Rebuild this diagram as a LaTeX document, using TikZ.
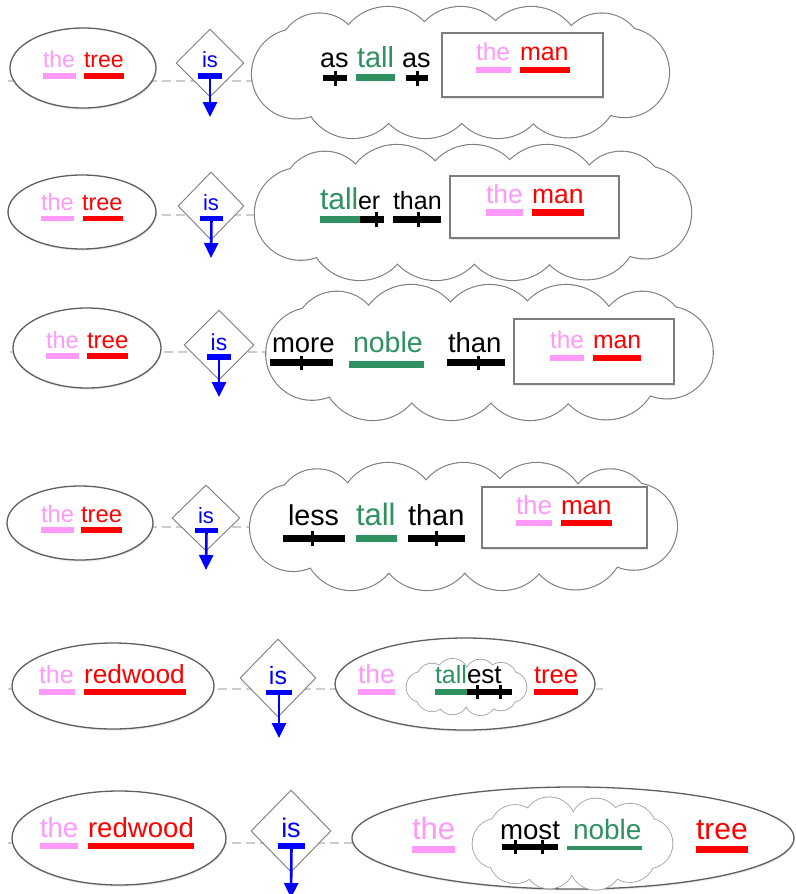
\documentclass[tikz,border=0pt]{standalone}
\usepackage{fontspec}
\setmainfont{Liberation Sans}
\usetikzlibrary{shapes.geometric,arrows.meta,shadows}

\definecolor{artpink}{RGB}{255,153,250}
\definecolor{nounred}{RGB}{255,0,0}
\definecolor{adjgreen}{RGB}{47,145,95}
\definecolor{verbblue}{RGB}{0,0,255}
\definecolor{rimgray}{RGB}{95,95,95}
\definecolor{edgegray}{RGB}{125,125,125}
\definecolor{linkgray}{RGB}{205,205,205}

% font size in pt
\newcommand\wsz[1]{\fontsize{#1}{#1}\selectfont}
% underline bar: colour, x1, x2, ytop, ybottom
\newcommand\ubar[5]{\fill[#1] (#2,#4) rectangle (#3,#5);}
% large thought cloud: cx, cy, half width A, half height B;
% puffs given as x/A, y/B, radius/B
\def\wideplan{-0.68/-0.27/0.63, -0.35/-0.22/0.78, 0.0/-0.24/0.76, 0.34/-0.22/0.78, 0.68/-0.26/0.64,
  -0.52/0.24/0.76, -0.17/0.22/0.78, 0.18/0.24/0.76, 0.52/0.22/0.77, -0.79/0.02/0.68, 0.79/0.0/0.68}
\newcommand\bigcloud[4]{%
  \foreach \fx/\fy/\fr in \wideplan {\draw[cloudrim] ({#1+#3*(\fx)},{#2+#4*(\fy)}) circle[radius={#4*\fr}];}
  \foreach \fx/\fy/\fr in \wideplan {\fill[white] ({#1+#3*(\fx)},{#2+#4*(\fy)}) circle[radius={#4*\fr}];}
}
% small thought cloud: puffs set round an ellipse (cx, cy, a, b, puff radius)
\def\smallpuffs{0/1, 40/1, 72/1.05, 108/1, 140/1.05, 180/1, 220/1, 252/1.05, 288/1, 320/1.05}
\newcommand\smallcloud[5]{%
  \foreach \pa/\pf in \smallpuffs {\draw[smallrim] ({#1+#3*cos(\pa)},{#2+#4*sin(\pa)}) circle[radius={#5*\pf}];}
  \foreach \pa/\pf in \smallpuffs {\fill[white] ({#1+#3*cos(\pa)},{#2+#4*sin(\pa)}) circle[radius={#5*\pf}];}
  \fill[white] (#1,#2) ellipse[x radius=#3, y radius=#4];
}

\tikzset{
  word/.style={anchor=base west, inner sep=0pt, outer sep=0pt},
  subj/.style={ellipse, draw=rimgray, line width=1.3pt, fill=white, inner sep=0pt,
    drop shadow={opacity=0.18, shadow xshift=0.6pt, shadow yshift=-1.6pt}},
  verbbox/.style={diamond, draw=edgegray, line width=0.9pt, fill=white, inner sep=0pt},
  cloudrim/.style={draw=edgegray, line width=2.2pt},
  smallrim/.style={draw=edgegray!75, line width=1.6pt},
  objbox/.style={rectangle, draw=edgegray, line width=1.6pt, fill=white, inner sep=0pt,
    drop shadow={opacity=0.2, shadow xshift=0.8pt, shadow yshift=-1.6pt}},
  copbar/.style={rectangle, fill=verbblue, inner sep=0pt, minimum width=24pt, minimum height=6pt},
  copula/.style={draw=verbblue, line width=2.6pt, -{Triangle[width=14pt,length=15pt]}},
  link/.style={draw=linkgray, line width=1.5pt, dash pattern=on 9pt off 5pt},
  tick/.style={draw=black, line width=3pt},
}

\begin{document}
\begin{tikzpicture}[x=1pt,y=-1pt]
\fill[white] (0,0) rectangle (795,894);
\useasboundingbox (0,0) rectangle (795,894);

% ---------- the tree is as tall as the man ----------
\coordinate (r1a) at (8,81); \coordinate (r1b) at (300,81);
\draw[link] (r1a) -- (r1b);
\node[subj, minimum width=146pt, minimum height=80pt] (r1subj) at (83,68) {};
\node[verbbox, minimum width=68pt, minimum height=68pt] (r1verb) at (210,63) {};
\bigcloud{460.5}{72.5}{207.5}{65.5}
\node[objbox, minimum width=161pt, minimum height=64pt] (r1obj) at (522.5,65) {};
\node[word, text=artpink, font=\wsz{23}] (r1the) at (43,67) {the}; \ubar{artpink}{43}{76}{73}{79}
\node[word, text=nounred, font=\wsz{23}] (r1tree) at (84,67) {tree}; \ubar{nounred}{84}{124}{73}{79}
\node[word, anchor=base, text=verbblue, font=\wsz{22}] (r1is) at (210,67) {is};
\node[copbar] (r1cop) at (210,76) {};
\coordinate (r1tip) at (210,117);
\draw[copula] (r1cop.center) -- (r1tip);
\node[word, font=\wsz{27}] (r1as) at (320,67) {as}; \ubar{black}{323}{347}{75}{81}
\draw[tick] (335,71) -- (335,86);
\node[word, text=adjgreen, font=\wsz{29}] (r1tall) at (357,67) {tall}; \ubar{adjgreen}{356}{395}{74}{81}
\node[word, font=\wsz{27}] (r1asb) at (402,67) {as}; \ubar{black}{406}{428}{75}{81}
\draw[tick] (417,71) -- (417,86);
\node[word, text=artpink, font=\wsz{24.5}] (r1theb) at (476,60) {the}; \ubar{artpink}{476}{511}{67}{73}
\node[word, text=nounred, font=\wsz{25}] (r1man) at (520,60) {man}; \ubar{nounred}{520}{570}{67}{73}

% ---------- the tree is taller than the man ----------
\coordinate (r2a) at (8,215); \coordinate (r2b) at (300,215);
\draw[link] (r2a) -- (r2b);
\node[subj, minimum width=148pt, minimum height=74pt] (r2subj) at (82,212) {};
\node[verbbox, minimum width=66pt, minimum height=68pt] (r2verb) at (211,206) {};
\bigcloud{473}{212.5}{218}{67.5}
\node[objbox, minimum width=169pt, minimum height=62pt] (r2obj) at (534.5,207) {};
\node[word, text=artpink, font=\wsz{23.5}] (r2the) at (41,210) {the}; \ubar{artpink}{41}{74}{216}{221}
\node[word, text=nounred, font=\wsz{23.5}] (r2tree) at (82,210) {tree}; \ubar{nounred}{83}{123}{216}{221}
\node[word, anchor=base, text=verbblue, font=\wsz{22}] (r2is) at (211,210) {is};
\node[copbar, minimum width=23pt, minimum height=5pt] (r2cop) at (211.5,218.5) {};
\coordinate (r2tip) at (211,258);
\draw[copula] (r2cop.center) -- (r2tip);
\node[word, text=adjgreen, font=\wsz{30}] (r2tall) at (320,209) {tall};
\node[word, font=\wsz{25}] (r2er) at (358,209) {er};
\ubar{adjgreen}{320}{360}{216}{223} \ubar{black}{360}{384}{216}{223}
\draw[tick] (376,212) -- (376,227);
\node[word, font=\wsz{25}] (r2than) at (393,209) {than}; \ubar{black}{393}{441}{216}{223}
\draw[tick] (418,212) -- (418,227);
\node[word, text=artpink, font=\wsz{26.5}] (r2theb) at (486,203) {the}; \ubar{artpink}{486}{523}{209}{216}
\node[word, text=nounred, font=\wsz{26.5}] (r2man) at (532,203) {man}; \ubar{nounred}{532}{584}{209}{216}

% ---------- the tree is more noble than the man ----------
\coordinate (r3a) at (10,352); \coordinate (r3b) at (300,352);
\draw[link] (r3a) -- (r3b);
\node[subj, minimum width=148pt, minimum height=80pt] (r3subj) at (87,348) {};
\node[verbbox, minimum width=70pt, minimum height=70pt] (r3verb) at (219,345) {};
\bigcloud{489.5}{352.5}{224.5}{67.5}
\node[objbox, minimum width=160pt, minimum height=65pt] (r3obj) at (594,351.5) {};
\node[word, text=artpink, font=\wsz{23.5}] (r3the) at (46,348) {the}; \ubar{artpink}{46}{79}{353}{359}
\node[word, text=nounred, font=\wsz{24}] (r3tree) at (87,348) {tree}; \ubar{nounred}{87}{128}{353}{359}
\node[word, anchor=base, text=verbblue, font=\wsz{23}] (r3is) at (219,350) {is};
\node[copbar] (r3cop) at (219,357) {};
\coordinate (r3tip) at (219,397);
\draw[copula] (r3cop.center) -- (r3tip);
\node[word, font=\wsz{27.5}] (r3more) at (272,352) {more}; \ubar{black}{270}{333}{359}{366}
\draw[tick] (301,356) -- (301,370);
\node[word, text=adjgreen, font=\wsz{28.5}] (r3noble) at (353,352) {noble}; \ubar{adjgreen}{349}{424}{361}{368}
\node[word, font=\wsz{27.5}] (r3than) at (448,352) {than}; \ubar{black}{447}{505}{359}{366}
\draw[tick] (478,356) -- (478,370);
\node[word, text=artpink, font=\wsz{24.5}] (r3theb) at (550,348) {the}; \ubar{artpink}{550}{584}{355}{361}
\node[word, text=nounred, font=\wsz{24.7}] (r3man) at (593,348) {man}; \ubar{nounred}{593}{641}{355}{361}

% ---------- the tree is less tall than the man ----------
\coordinate (r4a) at (8,527); \coordinate (r4b) at (290,527);
\draw[link] (r4a) -- (r4b);
\node[subj, minimum width=146pt, minimum height=74pt] (r4subj) at (80,523) {};
\node[verbbox, minimum width=68pt, minimum height=66pt] (r4verb) at (206,518) {};
\bigcloud{463.5}{526.5}{215.5}{63.5}
\node[objbox, minimum width=165pt, minimum height=61pt] (r4obj) at (564.5,517.5) {};
\node[word, text=artpink, font=\wsz{23.7}] (r4the) at (41,522) {the}; \ubar{artpink}{41}{74}{527}{533}
\node[word, text=nounred, font=\wsz{23.8}] (r4tree) at (81,522) {tree}; \ubar{nounred}{81}{122}{527}{533}
\node[word, anchor=base, text=verbblue, font=\wsz{22}] (r4is) at (206,523) {is};
\node[copbar, minimum width=23pt, minimum height=5pt] (r4cop) at (206.5,530.5) {};
\coordinate (r4tip) at (206,570);
\draw[copula] (r4cop.center) -- (r4tip);
\node[word, font=\wsz{28.7}] (r4less) at (288,525) {less}; \ubar{black}{283}{345}{535}{542}
\draw[tick] (312,531) -- (312,546);
\node[word, text=adjgreen, font=\wsz{31}] (r4tall) at (356,525) {tall}; \ubar{adjgreen}{356}{397}{535}{542}
\node[word, font=\wsz{29}] (r4than) at (408,525) {than}; \ubar{black}{408}{465}{535}{542}
\draw[tick] (436,531) -- (436,546);
\node[word, text=artpink, font=\wsz{26}] (r4theb) at (516,514) {the}; \ubar{artpink}{516}{552}{520}{526}
\node[word, text=nounred, font=\wsz{26}] (r4man) at (561,514) {man}; \ubar{nounred}{561}{612}{520}{526}

% ---------- the redwood is the tallest tree ----------
\coordinate (r5a) at (8,689); \coordinate (r5b) at (603,689);
\draw[link] (r5a) -- (r5b);
\node[subj, minimum width=202pt, minimum height=86pt] (r5subj) at (113,686) {};
\node[verbbox, minimum width=76pt, minimum height=78pt] (r5verb) at (278,678) {};
\node[subj, minimum width=260pt, minimum height=92pt] (r5pred) at (465,684) {};
\smallcloud{466.5}{687}{45}{13}{15}
\node[word, text=artpink, font=\wsz{25}] (r5the) at (39,683) {the}; \ubar{artpink}{39}{75}{689}{695}
\node[word, text=nounred, font=\wsz{26.3}] (r5redwood) at (84,683) {redwood}; \ubar{nounred}{84}{186}{689}{695}
\node[word, anchor=base, text=verbblue, font=\wsz{25}] (r5is) at (278,684) {is};
\node[copbar, minimum width=26pt, minimum height=5pt] (r5cop) at (279,692.5) {};
\coordinate (r5tip) at (279,738);
\draw[copula] (r5cop.center) -- (r5tip);
\node[word, text=artpink, font=\wsz{26.5}] (r5theb) at (358,683) {the}; \ubar{artpink}{358}{395}{689}{695}
\node[word, text=adjgreen, font=\wsz{25}] (r5tall) at (435,683) {tall};
\node[word, font=\wsz{26}] (r5est) at (467,683) {est};
\ubar{adjgreen}{435}{467}{689}{695} \ubar{black}{467}{512}{689}{695}
\draw[tick] (477,685) -- (477,699);
\draw[tick] (500,685) -- (500,699);
\node[word, text=nounred, font=\wsz{25.6}] (r5tree) at (534,683) {tree}; \ubar{nounred}{534}{578}{689}{695}

% ---------- the redwood is the most noble tree ----------
\coordinate (r6a) at (8,843); \coordinate (r6b) at (380,843);
\draw[link] (r6a) -- (r6b);
\node[subj, minimum width=214pt, minimum height=94pt] (r6subj) at (119,838) {};
\node[verbbox, minimum width=80pt, minimum height=82pt] (r6verb) at (291,831) {};
\node[subj, minimum width=442pt, minimum height=102pt] (r6pred) at (573,838) {};
\smallcloud{572.5}{843.5}{75}{21}{25}
\node[word, text=artpink, font=\wsz{27.5}] (r6the) at (40,837) {the}; \ubar{artpink}{40}{78}{843}{849}
\node[word, text=nounred, font=\wsz{27.6}] (r6redwood) at (88,837) {redwood}; \ubar{nounred}{88}{194}{843}{849}
\node[word, anchor=base, text=verbblue, font=\wsz{27}] (r6is) at (291,837) {is};
\node[copbar, minimum width=27pt, minimum height=6pt] (r6cop) at (291.5,846) {};
\coordinate (r6tip) at (291,898);
\draw[copula] (r6cop.center) -- (r6tip);
\node[word, text=artpink, font=\wsz{31}] (r6theb) at (412,839) {the}; \ubar{artpink}{412}{455}{846}{853}
\node[word, font=\wsz{27.7}] (r6most) at (500,839) {most}; \ubar{black}{502}{558}{844}{850}
\draw[tick] (515,840) -- (515,854);
\draw[tick] (542,840) -- (542,854);
\node[word, text=adjgreen, font=\wsz{28}] (r6noble) at (573,839) {noble}; \ubar{adjgreen}{567}{642}{846}{850}
\node[word, text=nounred, font=\wsz{30}] (r6tree) at (696,839) {tree}; \ubar{nounred}{696}{748}{846}{853}
\end{tikzpicture}
\end{document}
